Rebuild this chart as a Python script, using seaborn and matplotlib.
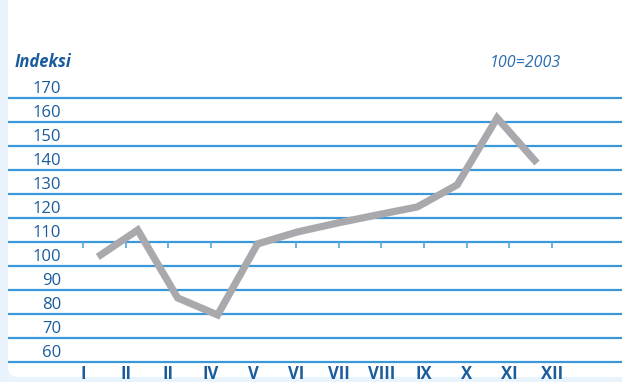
import matplotlib
matplotlib.use("Agg")
import matplotlib.pyplot as plt
from matplotlib import transforms
from matplotlib.patches import FancyBboxPatch
import pandas as pd
import seaborn as sns

# Monthly index values (100 = 2003)
months = ["I", "II", "II", "IV", "V", "VI", "VII", "VIII", "IX", "X", "XI", "XII"]
index_values = [103.8, 115.0, 86.7, 79.6, 109.2, 114.2, 117.9, 121.3, 124.6, 133.8, 161.7, 142.9]
y_levels = [60, 70, 80, 90, 100, 110, 120, 130, 140, 150, 160, 170]

title_text = "Indeksi"
base_text = "100=2003"

sns.set_theme(style="white")
plt.rcParams["font.family"] = ["Open Sans", "DejaVu Sans"]

W, H = 622, 382
DARK_BLUE = "#1a5b9c"
GRID_BLUE = "#3a97d8"
TICK_BLUE = "#5aaee2"
LINE_GREY = "#a9a9ad"
BG_BLUE = "#e8f3fb"

fig = plt.figure(figsize=(W / 100, H / 100), dpi=100, facecolor=BG_BLUE)
px = transforms.IdentityTransform()

# white panel with a rounded lower-left corner
panel = FancyBboxPatch((8, 5), 900, 600, boxstyle="round,pad=0,rounding_size=10",
                       transform=px, facecolor="white", edgecolor="none", zorder=0)
fig.add_artist(panel)

# axes geometry in pixels (origin top-left)
left, right, top, bottom = 8, 622, 86, 374
ax = fig.add_axes([left / W, (H - bottom) / H, (right - left) / W, (bottom - top) / H])
ax.set_facecolor("none")
for s in ax.spines.values():
    s.set_visible(False)

step = 39.93            # pixels per month on the line
x0_px = 97.8            # pixel position of the first month
ax.set_xlim((left - x0_px) / step, (right - x0_px) / step)
ax.set_ylim(55, 175)
ax.set_xticks([])
ax.set_yticks([])

df = pd.DataFrame({"pos": range(len(months)), "month": months, "index": index_values})

# horizontal rules
for v in y_levels:
    ax.axhline(v, color=GRID_BLUE, lw=1.6, zorder=1)

# month label positions
tick_start = (83 - x0_px) / step
tick_step = 42.64 / step
tick_pos = [tick_start + i * tick_step for i in range(len(months))]
ax.vlines(tick_pos, 110 - 6 / 2.4, 110, color=TICK_BLUE, lw=1.3, zorder=1)

sns.lineplot(data=df, x="pos", y="index", ax=ax, color=LINE_GREY, lw=5.2,
             zorder=3, legend=False)
for ln in ax.lines:
    if ln.get_linewidth() > 5:
        ln.set_solid_joinstyle("miter")
        ln.set_solid_capstyle("butt")
ax.set_xlabel("")
ax.set_ylabel("")

# y labels sit just above their rules
ylab_tr = transforms.offset_copy(
    transforms.blended_transform_factory(px, ax.transData), fig=fig, y=5, units="dots")
for v in y_levels:
    ax.text(61, v, str(v), transform=ylab_tr, ha="right", va="baseline",
            fontsize=12, fontweight="medium", color=DARK_BLUE, clip_on=False)

# month labels along the bottom
xlab_tr = transforms.blended_transform_factory(ax.transData, px)
for p, m in zip(tick_pos, months):
    ax.text(p, H - 379, m, transform=xlab_tr, ha="center", va="baseline",
            fontsize=12, fontweight="bold", color=DARK_BLUE, clip_on=False)

fig.text(15, H - 67, title_text, transform=px, ha="left", va="baseline",
         fontsize=12, fontweight="bold", fontstyle="italic", color=DARK_BLUE)
fig.text(490, H - 67, base_text, transform=px, ha="left", va="baseline",
         fontsize=11.5, fontstyle="italic", color="#2a6cb0")

fig.savefig("out.png", dpi=100, facecolor=BG_BLUE)
